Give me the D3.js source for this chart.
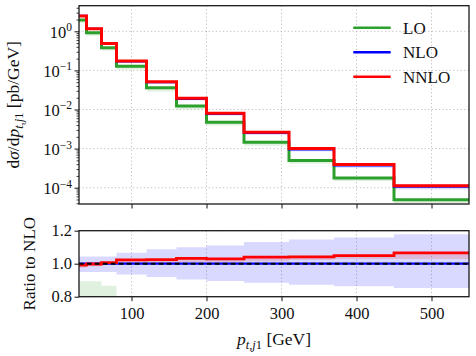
<!DOCTYPE html>
<html><head><meta charset="utf-8">
<script src="https://cdn.jsdelivr.net/npm/d3@7"></script>
<style>
body{margin:0;background:#fff;}
svg text{font-family:"Liberation Serif","Times New Roman",serif;fill:#111;}
</style></head>
<body><svg id="c" width="476" height="356"></svg>
<script>
// ---- data ----
const binEdges = [30,40,60,80,120,160,200,250,310,370,450,550];
const loValues   = [1.95, 0.92, 0.38, 0.128, 0.036, 0.0123, 0.0047, 0.00145, 5.0e-4, 1.78e-4, 4.9e-5];
const nloValues  = [2.48, 1.16, 0.487, 0.170, 0.0498, 0.0187, 0.00777, 0.00252, 9.6e-4, 3.72e-4, 1.06e-4];
const nnloValues = [2.46, 1.158, 0.49, 0.174, 0.051, 0.0193, 0.0080, 0.00262, 1.0e-3, 3.9e-4, 1.13e-4];
// scale-uncertainty bands, relative to NLO
const nloBandLow   = [0.949, 0.949, 0.949, 0.935, 0.919, 0.905, 0.895, 0.885, 0.873, 0.864, 0.852];
const nloBandHigh  = [1.044, 1.044, 1.044, 1.067, 1.087, 1.10, 1.11, 1.131, 1.147, 1.159, 1.178];
const nnloBandLow  = [0.975, 0.985, 0.995, 1.005, 1.005, 1.01, 1.01, 1.015, 1.022, 1.028, 1.028];
const nnloBandHigh = [1.0, 1.004, 1.01, 1.028, 1.028, 1.034, 1.034, 1.042, 1.048, 1.052, 1.07];
const loBandLow    = [0.66, 0.66, 0.66, 0.62, 0.58, 0.54, 0.50, 0.47, 0.43, 0.40, 0.38];
const loBandHigh   = [0.893, 0.893, 0.866, 0.795, 0.78, 0.72, 0.66, 0.63, 0.57, 0.52, 0.50];
const xTicks = [100,200,300,400,500];
const yDecades = [0,-1,-2,-3,-4];
const ratioTicks = [0.8,1.0,1.2];
const seriesNames = ["LO","NLO","NNLO"];
const seriesColors = ["#2ca02c","#0000ff","#ff0000"];

// ---- layout ----
const L = 79, R = 469;
const T1 = 5.7, B1 = 204;
const T2 = 230.7, B2 = 296.7;
const svg = d3.select("#c");

const x = d3.scaleLinear().domain([30,550]).range([L,R]);
const y = d3.scaleLog().domain([3.83e-5, 4.52]).range([B1,T1]);
const yr = d3.scaleLinear().domain([0.8,1.2]).range([B2,T2]);

const defs = svg.append("defs");
defs.append("clipPath").attr("id","cp1").append("rect").attr("x",L).attr("y",T1).attr("width",R-L).attr("height",B1-T1);
defs.append("clipPath").attr("id","cp2").append("rect").attr("x",L).attr("y",T2).attr("width",R-L).attr("height",B2-T2);

function stepPts(vals){
  const p = vals.map((v,i)=>[binEdges[i], v]);
  p.push([binEdges[binEdges.length-1], vals[vals.length-1]]);
  return p;
}
function bandPts(lo, hi){
  const p = lo.map((v,i)=>({x:binEdges[i], lo:v, hi:hi[i]}));
  p.push({x:binEdges[binEdges.length-1], lo:lo[lo.length-1], hi:hi[hi.length-1]});
  return p;
}
const gridStyle = g => g.attr("stroke","#b8b8b8").attr("stroke-width",0.9).attr("stroke-dasharray","1.2,2.4");

// ---- top panel ----
const g1 = svg.append("g");
const grid1 = g1.append("g").call(gridStyle);
xTicks.forEach(t=>grid1.append("line").attr("x1",x(t)).attr("x2",x(t)).attr("y1",T1).attr("y2",B1));
yDecades.forEach(d=>grid1.append("line").attr("x1",L).attr("x2",R).attr("y1",y(Math.pow(10,d))).attr("y2",y(Math.pow(10,d))));

const p1 = g1.append("g").attr("clip-path","url(#cp1)");
const areaTop = d3.area().curve(d3.curveStepAfter).x(d=>x(d.x)).y0(d=>y(d.lo)).y1(d=>y(d.hi));
const absBand = (rel) => rel.map((r,i)=>r*nloValues[i]);
p1.append("path").attr("d",areaTop(bandPts(absBand(loBandLow).map((v,i)=>Math.min(v,loValues[i]*0.84)), loValues))).attr("fill","#2ca02c").attr("opacity",0.15);
p1.append("path").attr("d",areaTop(bandPts(absBand(nloBandLow), absBand(nloBandHigh)))).attr("fill","#0000ff").attr("opacity",0.12);
p1.append("path").attr("d",areaTop(bandPts(absBand(nnloBandLow), absBand(nnloBandHigh)))).attr("fill","#ff0000").attr("opacity",0.15);
const lineTop = d3.line().curve(d3.curveStepAfter).x(d=>x(d[0])).y(d=>y(d[1]));
[[loValues,"#2ca02c",3],[nloValues,"#0000ff",2.2],[nnloValues,"#ff0000",3]].forEach(([v,c,w])=>{
  p1.append("path").attr("d",lineTop(stepPts(v))).attr("fill","none").attr("stroke",c).attr("stroke-width",w);
});

// axes top
const minorVals = [];
for(let e=-5;e<=0;e++) for(let k=2;k<=9;k++){const v=k*Math.pow(10,e); if(v>=y.domain()[0]&&v<=y.domain()[1]) minorVals.push(v);}
g1.append("g").attr("transform",`translate(${L},0)`)
  .call(d3.axisLeft(y).tickValues(minorVals).tickSize(2.5).tickFormat(""))
  .call(g=>{g.select(".domain").remove(); g.selectAll("line").attr("stroke","#111").attr("stroke-width",0.8);});
const yMaj = g1.append("g").attr("transform",`translate(${L},0)`)
  .call(d3.axisLeft(y).tickValues(yDecades.map(d=>Math.pow(10,d))).tickSize(4.5).tickPadding(5).tickFormat(""))
  .call(g=>{g.select(".domain").remove(); g.selectAll("line").attr("stroke","#111").attr("stroke-width",1);});
yMaj.selectAll(".tick text").each(function(d){
  const t = d3.select(this).attr("font-size",16.5).attr("fill","#111").attr("dy","0.35em").attr("x",-7);
  const e = Math.round(Math.log10(d));
  t.append("tspan").text("10");
  t.append("tspan").attr("font-size",11.5).attr("dy","-0.55em").text(e<0?"\u2212"+(-e):String(e));
});
g1.append("g").attr("transform",`translate(0,${B1})`)
  .call(d3.axisBottom(x).tickValues(xTicks).tickSize(4.5).tickFormat(""))
  .call(g=>{g.select(".domain").remove(); g.selectAll("line").attr("stroke","#111");});
g1.append("rect").attr("x",L).attr("y",T1).attr("width",R-L).attr("height",B1-T1).attr("fill","none").attr("stroke","#1a1a1a").attr("stroke-width",1.3);

// legend
const lg = g1.append("g");
seriesNames.forEach((n,i)=>{
  const yy = 27.7 + i*24.5;
  lg.append("line").attr("x1",353.3).attr("x2",390.7).attr("y1",yy).attr("y2",yy).attr("stroke",seriesColors[i]).attr("stroke-width",2.6);
  lg.append("text").attr("x",403).attr("y",yy+6).attr("font-size",17).text(n);
});

// top y label
const yl = svg.append("text").attr("transform",`translate(19,${(T1+B1)/2}) rotate(-90)`).attr("text-anchor","middle").attr("font-size",17.5);
yl.append("tspan").text("d");
yl.append("tspan").attr("font-style","italic").text("σ");
yl.append("tspan").text("/d");
yl.append("tspan").attr("font-style","italic").text("p");
yl.append("tspan").attr("font-style","italic").attr("font-size",12.5).attr("dy","0.3em").text("t,j");
yl.append("tspan").attr("font-size",12.5).text("1");
yl.append("tspan").attr("dy","-0.2em").text(" [pb/GeV]");

// ---- ratio panel ----
const g2 = svg.append("g");
const grid2 = g2.append("g").call(gridStyle);
xTicks.forEach(t=>grid2.append("line").attr("x1",x(t)).attr("x2",x(t)).attr("y1",T2).attr("y2",B2));
ratioTicks.forEach(t=>grid2.append("line").attr("x1",L).attr("x2",R).attr("y1",yr(t)).attr("y2",yr(t)));
const p2 = g2.append("g").attr("clip-path","url(#cp2)");
const areaR = d3.area().curve(d3.curveStepAfter).x(d=>x(d.x)).y0(d=>yr(d.lo)).y1(d=>yr(d.hi));
p2.append("path").attr("d",areaR(bandPts(loBandLow, loBandHigh))).attr("fill","#2ca02c").attr("opacity",0.15);
p2.append("path").attr("d",areaR(bandPts(nloBandLow, nloBandHigh))).attr("fill","#0000ff").attr("opacity",0.15);
p2.append("path").attr("d",areaR(bandPts(nnloBandLow, nnloBandHigh))).attr("fill","#ff0000").attr("opacity",0.15);
const lineR = d3.line().curve(d3.curveStepAfter).x(d=>x(d[0])).y(d=>yr(d[1]));
const ratio = (v)=>v.map((a,i)=>a/nloValues[i]);
p2.append("path").attr("d",lineR(stepPts(ratio(loValues)))).attr("fill","none").attr("stroke","#2ca02c").attr("stroke-width",2.6);
p2.append("path").attr("d",lineR(stepPts(ratio(nloValues)))).attr("fill","none").attr("stroke","#0000ff").attr("stroke-width",2.2);
p2.append("path").attr("d",lineR(stepPts(ratio(nnloValues)))).attr("fill","none").attr("stroke","#ff0000").attr("stroke-width",2.8);
p2.append("line").attr("x1",L).attr("x2",R).attr("y1",yr(1)).attr("y2",yr(1)).attr("stroke","#000").attr("stroke-width",2).attr("stroke-dasharray","4.5,3.5");

g2.append("g").attr("transform",`translate(${L},0)`)
  .call(d3.axisLeft(yr).tickValues(ratioTicks).tickSize(4.5).tickPadding(5).tickFormat(d3.format(".1f")))
  .call(g=>{g.select(".domain").remove(); g.selectAll("line").attr("stroke","#111");
    g.selectAll("text").attr("font-size",16.5).attr("fill","#111").attr("font-family","Liberation Serif, serif").attr("x",-7);});
g2.append("g").attr("transform",`translate(0,${B2})`)
  .call(d3.axisBottom(x).tickValues(xTicks).tickSize(4.5).tickPadding(5).tickFormat(d3.format("d")))
  .call(g=>{g.select(".domain").remove(); g.selectAll("line").attr("stroke","#111");
    g.selectAll("text").attr("font-size",16.5).attr("fill","#111").attr("font-family","Liberation Serif, serif").attr("dy","0.75em");});
g2.append("rect").attr("x",L).attr("y",T2).attr("width",R-L).attr("height",B2-T2).attr("fill","none").attr("stroke","#1a1a1a").attr("stroke-width",1.3);

const rl = svg.append("text").attr("transform",`translate(35,${(T2+B2)/2}) rotate(-90)`).attr("text-anchor","middle").attr("font-size",17).text("Ratio to NLO");

const xl = svg.append("text").attr("x",(L+R)/2).attr("y",345).attr("text-anchor","middle").attr("font-size",17.5);
xl.append("tspan").attr("font-style","italic").text("p");
xl.append("tspan").attr("font-style","italic").attr("font-size",12.5).attr("dy","0.3em").text("t,j");
xl.append("tspan").attr("font-size",12.5).text("1");
xl.append("tspan").attr("dy","-0.2em").text(" [GeV]");
</script></body></html>
